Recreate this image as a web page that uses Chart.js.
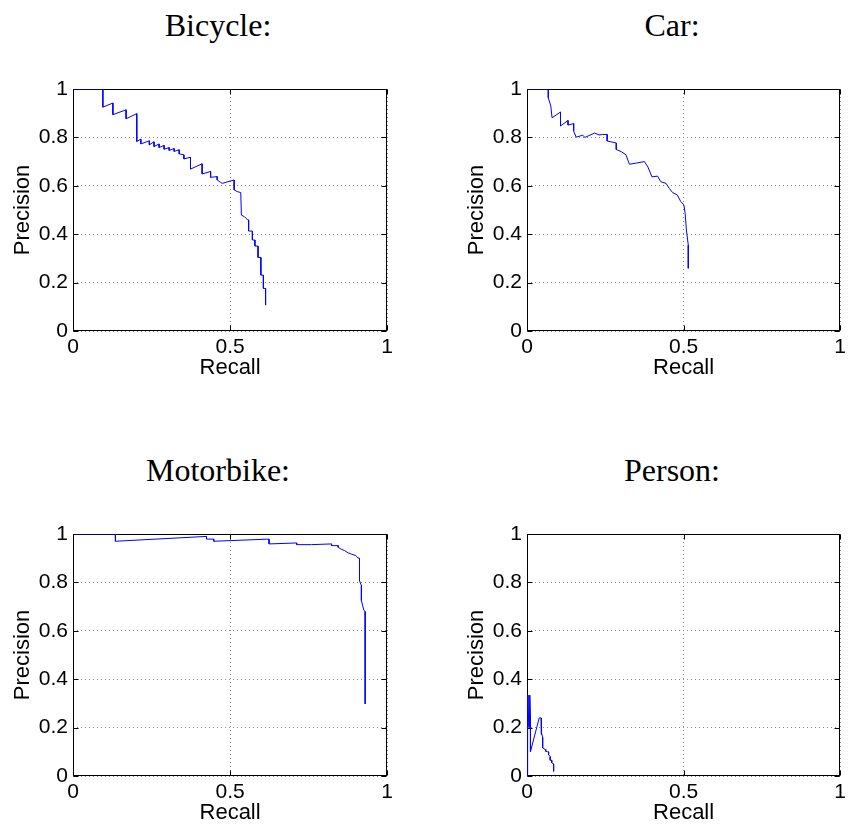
<!DOCTYPE html>
<html>
<head>
<meta charset="utf-8">
<script src="https://cdn.jsdelivr.net/npm/chart.js@4/dist/chart.umd.min.js"></script>
<style>
    html, body { margin: 0; padding: 0; background: #fff; overflow: hidden; }
    body { width: 848px; height: 827px; position: relative; }
    .panel { position: absolute; }
    .title {
        position: absolute;
        width: 240px;
        text-align: center;
        font-family: 'Liberation Serif', 'Times New Roman', serif;
        font-size: 32px;
        line-height: 32px;
        color: #000;
    }
</style>
</head>
<body>
<div class="title" style="left:98px; top:9px;">Bicycle:</div>
<div class="title" style="left:552px; top:9px;">Car:</div>
<div class="title" style="left:98px; top:454px;">Motorbike:</div>
<div class="title" style="left:552px; top:454px;">Person:</div>

<canvas id="bicycle" class="panel" width="397" height="312" style="left:0px; top:69px;"></canvas>
<canvas id="car" class="panel" width="396" height="312" style="left:454px; top:69px;"></canvas>
<canvas id="motorbike" class="panel" width="397" height="312" style="left:0px; top:514px;"></canvas>
<canvas id="person" class="panel" width="396" height="312" style="left:454px; top:514px;"></canvas>

<script>
// Curvas precision / recall
const bicycleRecall = [0, 0.095, 0.095, 0.127, 0.127, 0.169, 0.169, 0.203, 0.203, 0.216, 0.216, 0.243, 0.243,
    0.258, 0.258, 0.274, 0.274, 0.290, 0.290, 0.306, 0.306, 0.322, 0.322, 0.338, 0.338, 0.353, 0.353,
    0.374, 0.374, 0.411, 0.411, 0.438, 0.438, 0.459, 0.459, 0.469, 0.475, 0.513, 0.513, 0.523, 0.534,
    0.536, 0.546, 0.556, 0.559, 0.559, 0.571, 0.571, 0.579, 0.579, 0.589, 0.589, 0.598, 0.598, 0.606,
    0.606, 0.613, 0.613];
const bicyclePrecision = [1, 1, 0.925, 0.942, 0.894, 0.914, 0.877, 0.898, 0.783, 0.793, 0.773, 0.786, 0.769,
    0.782, 0.762, 0.773, 0.758, 0.767, 0.751, 0.758, 0.746, 0.754, 0.742, 0.749, 0.732, 0.728, 0.711,
    0.718, 0.669, 0.691, 0.649, 0.659, 0.635, 0.638, 0.624, 0.615, 0.610, 0.624, 0.583, 0.576, 0.572,
    0.479, 0.472, 0.459, 0.459, 0.413, 0.413, 0.376, 0.376, 0.351, 0.351, 0.304, 0.304, 0.231, 0.231,
    0.176, 0.176, 0.107];

const carRecall = [0, 0.068, 0.068, 0.076, 0.080, 0.107, 0.107, 0.131, 0.131, 0.149, 0.149, 0.157, 0.178,
    0.185, 0.216, 0.230, 0.242, 0.256, 0.256, 0.285, 0.285, 0.301, 0.316, 0.327, 0.349, 0.375, 0.386,
    0.399, 0.417, 0.427, 0.444, 0.454, 0.465, 0.480, 0.491, 0.501, 0.505, 0.509, 0.515, 0.515];
const carPrecision = [1, 1, 0.964, 0.930, 0.881, 0.905, 0.847, 0.870, 0.851, 0.857, 0.826, 0.801, 0.809,
    0.800, 0.818, 0.810, 0.812, 0.812, 0.785, 0.777, 0.750, 0.741, 0.728, 0.689, 0.694, 0.700, 0.678,
    0.637, 0.640, 0.617, 0.610, 0.590, 0.572, 0.562, 0.535, 0.521, 0.486, 0.417, 0.355, 0.259];

const motorbikeRecall = [0, 0.135, 0.135, 0.425, 0.425, 0.448, 0.448, 0.624, 0.624, 0.712, 0.712, 0.759,
    0.823, 0.823, 0.844, 0.844, 0.854, 0.865, 0.876, 0.886, 0.900, 0.907, 0.912, 0.912, 0.918, 0.918,
    0.926, 0.930, 0.930];
const motorbikePrecision = [1, 1, 0.970, 0.990, 0.979, 0.979, 0.970, 0.979, 0.959, 0.963, 0.956, 0.956,
    0.959, 0.952, 0.952, 0.945, 0.937, 0.931, 0.922, 0.917, 0.911, 0.901, 0.900, 0.807, 0.787, 0.725,
    0.684, 0.680, 0.298];

const personRecall = [0, 0, 0.003, 0.003, 0.006, 0.006, 0.009, 0.009, 0.011, 0.011, 0.039, 0.045, 0.045,
    0.047, 0.050, 0.050, 0.058, 0.060, 0.060, 0.066, 0.069, 0.069, 0.074, 0.074, 0.079, 0.079, 0.085,
    0.085];
const personPrecision = [0, 0.334, 0.200, 0.334, 0.200, 0.334, 0.200, 0.334, 0.250, 0.100, 0.240, 0.240,
    0.171, 0.180, 0.160, 0.116, 0.110, 0.110, 0.102, 0.100, 0.100, 0.088, 0.080, 0.065, 0.065, 0.055,
    0.050, 0.019];

const xTicks = [0, 0.5, 1];
const yTicks = [0, 0.2, 0.4, 0.6, 0.8, 1];

Chart.defaults.font.family = "'Liberation Sans', Arial, sans-serif";
Chart.defaults.color = '#000';

// Marco negro y marcas de escala hacia dentro, como en MATLAB
const framePlugin = {
    id: 'frame',
    beforeDatasetsDraw(chart) {
        const { ctx, chartArea: a, scales: { x, y } } = chart;
        const L = Math.round(a.left) + 0.5, R = Math.round(a.right) - 0.5;
        const T = Math.round(a.top) + 0.5, B = Math.round(a.bottom) - 0.5;
        const len = 5;
        ctx.save();
        ctx.strokeStyle = '#000';
        ctx.lineWidth = 1;
        ctx.strokeRect(L, T, R - L, B - T);
        ctx.beginPath();
        x.ticks.forEach(t => {
            const px = Math.round(x.getPixelForValue(t.value)) + 0.5;
            ctx.moveTo(px, B); ctx.lineTo(px, B - len);
            ctx.moveTo(px, T); ctx.lineTo(px, T + len);
        });
        y.ticks.forEach(t => {
            const py = Math.round(y.getPixelForValue(t.value)) + 0.5;
            ctx.moveTo(L, py); ctx.lineTo(L + len, py);
            ctx.moveTo(R, py); ctx.lineTo(R - len, py);
        });
        ctx.stroke();
        ctx.restore();
    }
};

function renderPR(canvasId, recall, precision) {
    const canvas = document.getElementById(canvasId);
    const points = recall.map((r, i) => ({ x: r, y: precision[i] }));

    return new Chart(canvas, {
        type: 'scatter',
        data: {
            datasets: [{
                data: points,
                showLine: true,
                borderColor: '#0000ff',
                borderWidth: 1,
                pointRadius: 0,
                tension: 0,
                fill: false
            }]
        },
        options: {
            responsive: false,
            animation: false,
            events: [],
            layout: { padding: { left: 0, top: 20, right: 8, bottom: 0 } },
            plugins: {
                legend: { display: false },
                tooltip: { enabled: false }
            },
            scales: {
                x: {
                    type: 'linear',
                    min: 0,
                    max: 1,
                    afterBuildTicks: (scale) => { scale.ticks = xTicks.map(v => ({ value: v })); },
                    afterFit: (scale) => { scale.height = 50; },
                    border: { display: false, dash: [1, 3] },
                    grid: { color: '#8c8c8c', lineWidth: 1, drawTicks: false },
                    ticks: { padding: 4, font: { size: 21 }, maxRotation: 0, callback: (v) => String(v) },
                    title: { display: true, text: 'Recall', font: { size: 22 }, padding: { top: 0, bottom: 0 } }
                },
                y: {
                    type: 'linear',
                    min: 0,
                    max: 1,
                    afterBuildTicks: (scale) => { scale.ticks = yTicks.map(v => ({ value: v })); },
                    afterFit: (scale) => { scale.width = 73; },
                    border: { display: false, dash: [1, 3] },
                    grid: { color: '#8c8c8c', lineWidth: 1, drawTicks: false },
                    ticks: { padding: 5, font: { size: 21 }, callback: (v) => String(v) },
                    title: { display: true, text: 'Precision', font: { size: 22 }, padding: { top: 10, bottom: 0 } }
                }
            }
        },
        plugins: [framePlugin]
    });
}

renderPR('bicycle', bicycleRecall, bicyclePrecision);
renderPR('car', carRecall, carPrecision);
renderPR('motorbike', motorbikeRecall, motorbikePrecision);
renderPR('person', personRecall, personPrecision);
</script>
</body>
</html>
